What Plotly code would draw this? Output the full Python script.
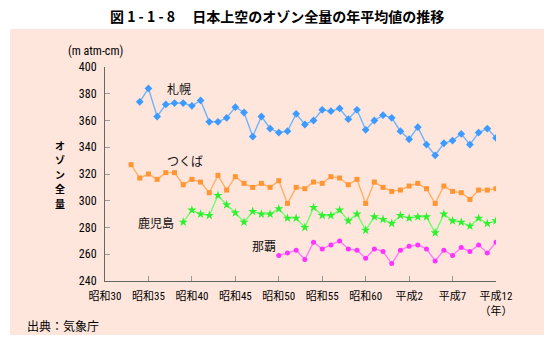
import plotly.graph_objects as go

# Annual mean total ozone over Japan (m atm-cm)
years_sapporo = list(range(1959, 2001))
sapporo = [374, 384, 363, 372, 373, 373, 371, 375, 359, 359, 362, 370, 366, 348,
           363, 354, 351, 352, 365, 357, 360, 368, 367, 369, 361, 368, 353, 360,
           364, 362, 352, 346, 355, 342, 334, 343, 345, 350, 342, 351, 354, 347]

years_tsukuba = list(range(1958, 2001))
tsukuba = [327, 317, 320, 316, 321, 321, 312, 316, 314, 306, 319, 308, 318, 313,
           310, 313, 310, 315, 298, 310, 309, 314, 313, 318, 317, 312, 316, 298,
           314, 310, 307, 308, 311, 313, 309, 298, 311, 307, 306, 301, 308, 308, 309]

years_kagoshima = list(range(1964, 2001))
kagoshima = [284, 293, 290, 289, 304, 297, 291, 284, 292, 290, 290, 294, 287, 287,
             280, 295, 289, 289, 293, 285, 290, 278, 288, 286, 283, 289, 287, 288,
             288, 276, 290, 285, 284, 281, 287, 283, 285]

years_naha = list(range(1975, 2001))
naha = [259, 261, 263, 256, 269, 264, 267, 270, 264, 263, 257, 264, 262, 253,
        263, 266, 267, 264, 255, 263, 259, 265, 262, 267, 261, 269]

tick_years = [1955, 1960, 1965, 1970, 1975, 1980, 1985, 1990, 1995, 2000]
tick_labels = ["昭和30", "昭和35", "昭和40", "昭和45", "昭和50", "昭和55",
               "昭和60", "平成2", "平成7", "平成12<br>（年）"]
y_ticks = [240, 260, 280, 300, 320, 340, 360, 380, 400]

W, H = 554, 346
ML, MR, MT, MB = 105, 58, 67, 65

JP = "Noto Sans CJK JP"
NUM = "Liberation Sans Narrow, Roboto Condensed, Noto Sans CJK JP"

fig = go.Figure()

series = [
    ("札幌", years_sapporo, sapporo, "diamond", 6, "#3d9bff", "#6cb4ff"),
    ("つくば", years_tsukuba, tsukuba, "square", 5, "#ff9633", "#ffb066"),
    ("鹿児島", years_kagoshima, kagoshima, "star", 7, "#2ef02e", "#6cff6c"),
    ("那覇", years_naha, naha, "circle", 5, "#ff33ff", "#ff7cff"),
]
for name, xs, ys, sym, size, mcol, lcol in series:
    fig.add_trace(go.Scatter(
        x=xs, y=ys, name=name, mode="lines+markers",
        line=dict(color=lcol, width=1.4),
        marker=dict(symbol=sym, size=size, color=mcol, line=dict(width=0)),
        showlegend=False, hoverinfo="x+y",
    ))

# Series names written next to their lines
labels = [("札幌", 1963.5, 383.8), ("つくば", 1964.25, 330.2),
          ("鹿児島", 1960.85, 283.5), ("那覇", 1973.3, 266.4)]
annotations = []
for txt, ax, ay in labels:
    annotations.append(dict(x=ax, y=ay, xref="x", yref="y", text=txt,
                            xanchor="center", yanchor="middle", showarrow=False,
                            font=dict(family=JP, size=12, color="#111")))

def px_x(p):
    return (p - ML) / (W - ML - MR)

def px_y(p):
    return (H - MB - p) / (H - MT - MB)

def note(x, y, text, size, weight="normal", family=JP, xanchor="center"):
    return dict(x=px_x(x), y=px_y(y), xref="paper", yref="paper", text=text,
                xanchor=xanchor, yanchor="middle", showarrow=False,
                font=dict(family=family, size=size, color="#000", weight=weight))

# Vertical axis title, one character per row
for i, ch in enumerate("オゾン全量"):
    annotations.append(note(60, 145 + i * 14.5, ch, 10, weight="bold"))

annotations += [
    note(95, 51, "(m atm-cm)", 12, family=NUM),
    note(277, 16, "図 1 - 1 - 8　 日本上空のオゾン全量の年平均値の推移", 14, weight="bold"),
    note(25, 325, "出典：気象庁", 12, xanchor="left"),
]

fig.update_layout(
    width=W, height=H,
    margin=dict(l=ML, r=MR, t=MT, b=MB, pad=0),
    paper_bgcolor="white", plot_bgcolor="rgba(0,0,0,0)",
    shapes=[dict(type="rect", xref="paper", yref="paper", layer="below",
                 x0=px_x(10), x1=px_x(544), y0=px_y(335), y1=px_y(29),
                 fillcolor="#ffe6dc", line=dict(width=0))],
    annotations=annotations,
    xaxis=dict(range=[1955, 2000], tickvals=tick_years, ticktext=tick_labels,
               showgrid=False, zeroline=False, showline=True, linecolor="#666",
               linewidth=1, ticks="inside", ticklen=5, tickcolor="#999",
               ticklabelstandoff=5,
               tickfont=dict(family=NUM, size=11, color="#000")),
    yaxis=dict(range=[240, 400], tickvals=y_ticks, showgrid=False, zeroline=False,
               showline=True, linecolor="#666", linewidth=1, ticks="inside",
               ticklen=5, tickcolor="#999", ticklabelstandoff=5,
               tickfont=dict(family=NUM, size=12, color="#000")),
)

fig.write_html("out.html")
